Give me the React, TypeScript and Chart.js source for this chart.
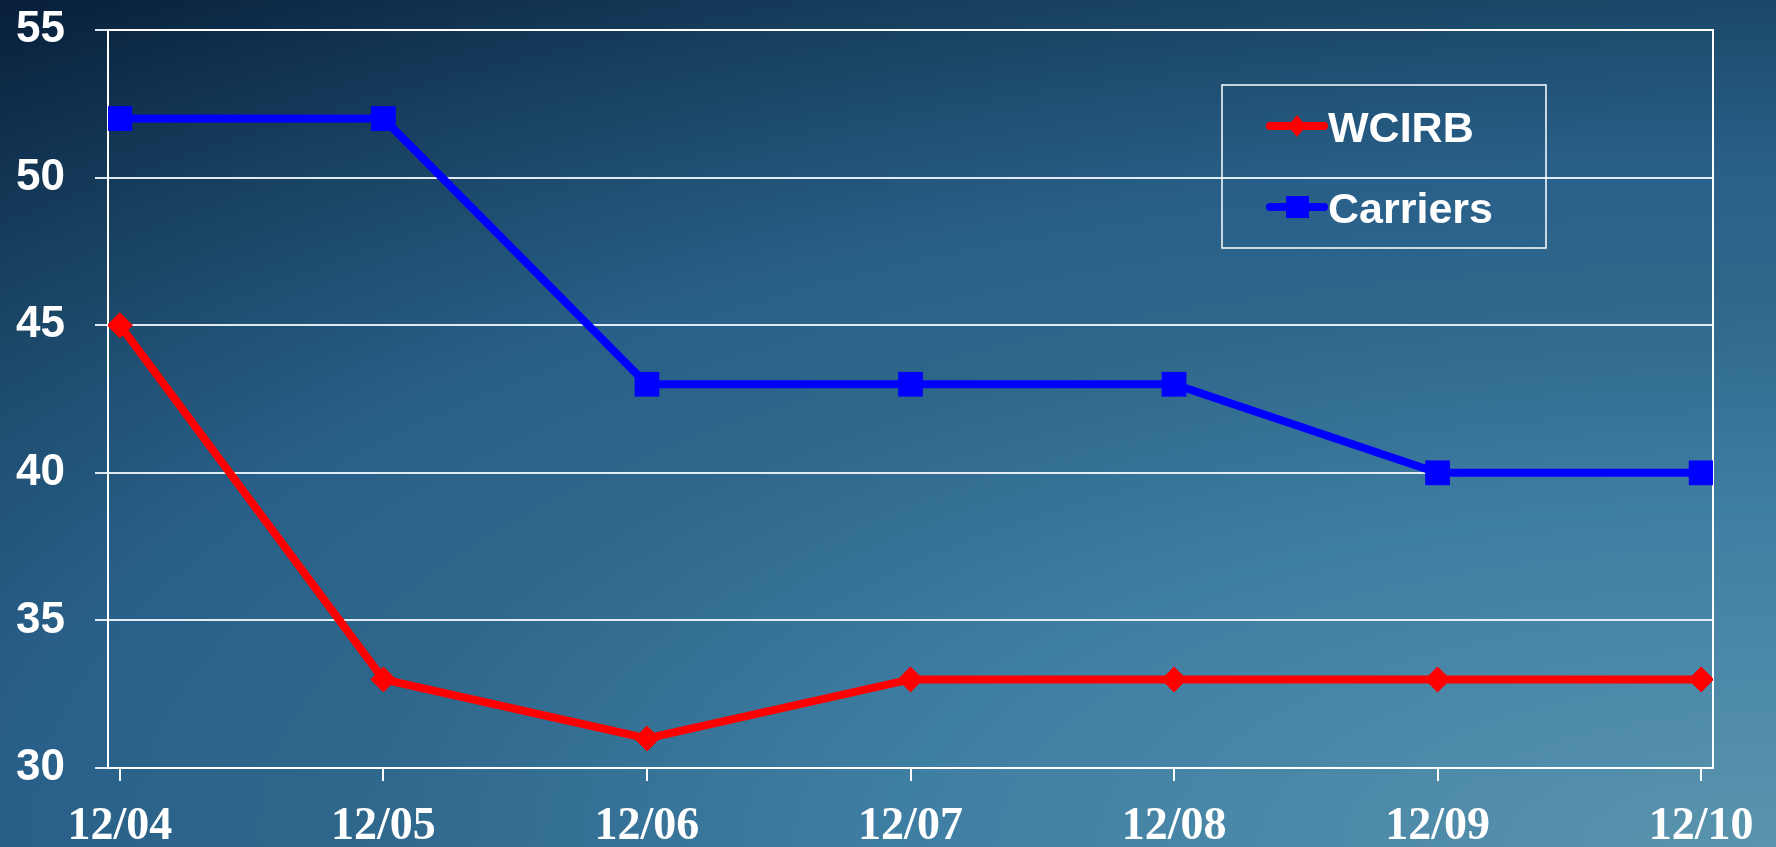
import React, { useEffect, useRef } from 'react';
import { Chart, registerables } from 'chart.js';

Chart.register(...registerables);

const categories = ['12/04', '12/05', '12/06', '12/07', '12/08', '12/09', '12/10'];
const wcirbValues = [45, 33, 31, 33, 33, 33, 33];
const carriersValues = [52, 52, 43, 43, 43, 40, 40];
const yTickValues = [30, 35, 40, 45, 50, 55];

const W = 1776;
const H = 847;
const PLOT_LEFT = 108;
const PLOT_RIGHT = 1713;
const PLOT_TOP = 30;
const PLOT_BOTTOM = 768;

const sansFont = '"Liberation Sans", Arial, sans-serif';
const serifFont = '"Liberation Serif", "Times New Roman", serif';

const frameAndLegend = {
  id: 'frameAndLegend',
  beforeDatasetsDraw(chart: any) {
    const { ctx, chartArea } = chart;
    ctx.save();
    ctx.strokeStyle = '#ffffff';
    ctx.lineWidth = 2;
    ctx.strokeRect(chartArea.left, chartArea.top, chartArea.right - chartArea.left, chartArea.bottom - chartArea.top);
    ctx.restore();
  },
  afterDraw(chart: any) {
    const { ctx } = chart;
    ctx.save();
    const bx = 1222, by = 85, bw = 324, bh = 163;
    ctx.strokeStyle = '#ffffff';
    ctx.lineWidth = 1.5;
    ctx.strokeRect(bx, by, bw, bh);
    const rows = [126, 207];
    chart.data.datasets.forEach((ds: any, i: number) => {
      const y = rows[i];
      ctx.strokeStyle = ds.borderColor;
      ctx.fillStyle = ds.borderColor;
      ctx.lineWidth = 8;
      ctx.lineCap = 'round';
      ctx.beginPath();
      ctx.moveTo(1270, y);
      ctx.lineTo(1324, y);
      ctx.stroke();
      ctx.beginPath();
      if (ds.pointStyle === 'rectRot') {
        ctx.moveTo(1297, y - 11);
        ctx.lineTo(1306, y);
        ctx.lineTo(1297, y + 11);
        ctx.lineTo(1288, y);
        ctx.closePath();
      } else {
        ctx.rect(1286, y - 11, 23, 22);
      }
      ctx.fill();
      ctx.fillStyle = '#ffffff';
      ctx.font = `bold 43px ${sansFont}`;
      ctx.textBaseline = 'middle';
      ctx.textAlign = 'left';
      ctx.fillText(ds.label, 1328, y + 4);
    });
    ctx.restore();
  },
};

export default function App() {
  const canvasRef = useRef<HTMLCanvasElement | null>(null);

  useEffect(() => {
    const canvas = canvasRef.current;
    if (!canvas) return;
    const chart = new Chart(canvas, {
      type: 'line',
      data: {
        datasets: [
          {
            label: 'WCIRB',
            data: wcirbValues.map((v, i) => ({ x: i, y: v })),
            borderColor: '#ff0000',
            backgroundColor: '#ff0000',
            borderWidth: 8,
            pointStyle: 'rectRot',
            pointRadius: 12.5,
            pointBorderWidth: 1,
            pointBorderColor: '#ff0000',
            pointBackgroundColor: '#ff0000',
            tension: 0,
          },
          {
            label: 'Carriers',
            data: carriersValues.map((v, i) => ({ x: i, y: v })),
            borderColor: '#0000ff',
            backgroundColor: '#0000ff',
            borderWidth: 8,
            pointStyle: 'rect',
            pointRadius: 17.5,
            pointBorderWidth: 0,
            pointBorderColor: '#0000ff',
            pointBackgroundColor: '#0000ff',
            tension: 0,
          },
        ],
      },
      options: {
        animation: false,
        responsive: false,
        devicePixelRatio: 1,
        layout: { padding: { top: PLOT_TOP, right: W - PLOT_RIGHT, left: 0, bottom: 0 } },
        plugins: { legend: { display: false }, tooltip: { enabled: false } },
        scales: {
          x: {
            type: 'linear',
            min: -0.045,
            max: categories.length - 1 + 0.045,
            afterBuildTicks: (s: any) => {
              s.ticks = categories.map((_, i) => ({ value: i }));
            },
            afterFit: (s: any) => {
              s.height = H - PLOT_BOTTOM;
              s.paddingLeft = 0;
              s.paddingRight = 0;
            },
            ticks: {
              callback: (v: any) => categories[v] ?? '',
              color: '#ffffff',
              font: { family: serifFont, weight: 'bold', size: 46 },
              padding: 19,
              maxRotation: 0,
              autoSkip: false,
            },
            grid: { drawOnChartArea: false, color: '#ffffff', lineWidth: 2, tickLength: 13 },
            border: { display: true, color: '#ffffff', width: 2 },
          },
          y: {
            min: 30,
            max: 55,
            afterBuildTicks: (s: any) => {
              s.ticks = yTickValues.map((v) => ({ value: v }));
            },
            afterFit: (s: any) => {
              s.width = PLOT_LEFT;
              s.paddingTop = 0;
              s.paddingBottom = 0;
            },
            ticks: {
              color: '#ffffff',
              font: { family: sansFont, weight: 'bold', size: 44 },
              padding: 30,
            },
            grid: { color: 'rgba(235,242,248,0.95)', lineWidth: 2, tickLength: 13 },
            border: { display: true, color: '#ffffff', width: 2 },
          },
        },
      } as any,
      plugins: [frameAndLegend],
    });
    return () => chart.destroy();
  }, []);

  return (
    <div
      style={{
        position: 'absolute',
        left: 0,
        top: 0,
        width: W,
        height: H,
        background:
          'radial-gradient(2600px 1000px at 100% 100%, #5a95ae 0%, #3f7ea3 34%, #2e678b 55%, #29608a 68%, #1b4767 85%, #08203c 108%)',
      }}
    >
      <canvas ref={canvasRef} width={W} height={H} style={{ display: 'block', width: W, height: H }} />
    </div>
  );
}
